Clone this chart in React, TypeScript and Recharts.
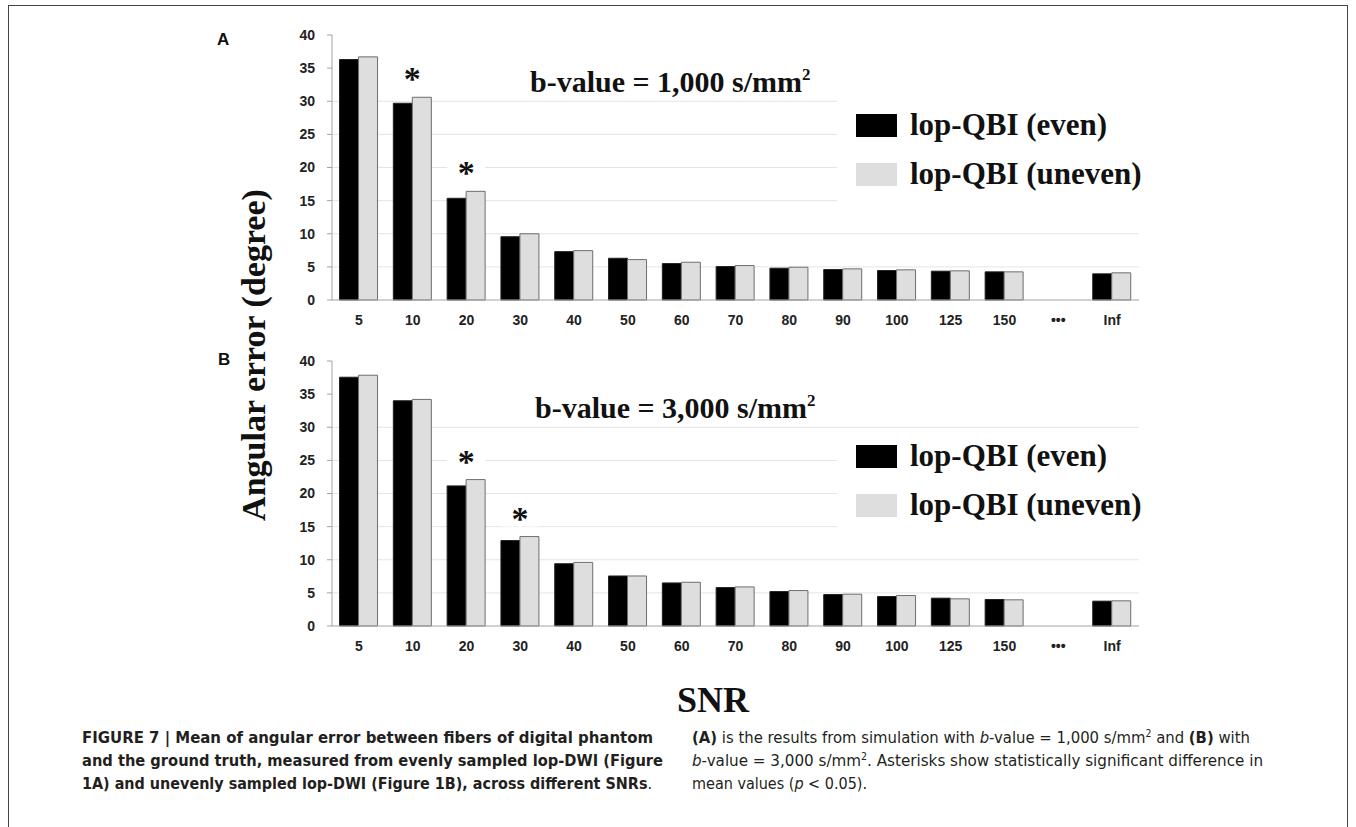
import React from "react";
import { BarChart, Bar, XAxis, YAxis, CartesianGrid, Legend, LabelList } from "recharts";

// SNR categories (the "•••" slot is an empty gap before Inf)
const snr = ["5", "10", "20", "30", "40", "50", "60", "70", "80", "90", "100", "125", "150", "•••", "Inf"];

// panel A: b-value = 1,000 s/mm2
const evenA = [36.3, 29.7, 15.35, 9.55, 7.3, 6.3, 5.5, 5.05, 4.8, 4.6, 4.45, 4.35, 4.25, null, 3.95];
const unevenA = [36.7, 30.6, 16.4, 10.0, 7.45, 6.1, 5.7, 5.2, 4.95, 4.7, 4.55, 4.4, 4.25, null, 4.1];
const starsA = ["10", "20"];

// panel B: b-value = 3,000 s/mm2
const evenB = [37.55, 34.0, 21.15, 12.9, 9.4, 7.55, 6.5, 5.8, 5.2, 4.75, 4.45, 4.2, 4.0, null, 3.75];
const unevenB = [37.85, 34.2, 22.1, 13.5, 9.6, 7.55, 6.6, 5.9, 5.35, 4.8, 4.6, 4.1, 3.95, null, 3.8];
const starsB = ["20", "30"];

const yTicks = [0, 5, 10, 15, 20, 25, 30, 35, 40];
const gridValues = [5, 10, 15, 20, 25, 30];
const seriesNames = ["lop-QBI (even)", "lop-QBI (uneven)"];

const SERIF = "'Liberation Serif', 'Times New Roman', serif";
const SANS = "'Liberation Sans', Arial, sans-serif";
const NARROW = "'Liberation Sans Narrow', 'DejaVu Sans Condensed', sans-serif";
const AXIS = "#a3a3a3";
const GREY_BAR = "#dedede";

function rows(even: (number | null)[], uneven: (number | null)[], stars: string[]) {
  return snr.map((s, i) => ({
    snr: s,
    even: even[i],
    uneven: uneven[i],
    star: stars.includes(s) ? "*" : "",
  }));
}

function StarLabel(props: any) {
  if (props.value !== "*") return null;
  const vb = props.viewBox || props;
  const cx = vb.x;
  const cy = vb.y - 23;
  return (
    <g>
      <rect x={cx - 19} y={cy - 13} width={38} height={26} fill="#fff" />
      <text x={cx} y={cy + 16} textAnchor="middle" fontFamily={SERIF} fontWeight="bold" fontSize={34} fill="#111">
        *
      </text>
    </g>
  );
}

function LegendBox(props: any) {
  const items = props.payload && props.payload.length ? props.payload : [];
  const names = items.length ? items.map((p: any) => p.value) : seriesNames;
  const colors = items.length ? items.map((p: any) => p.color) : ["#000", GREY_BAR];
  return (
    <svg width={310} height={118} style={{ display: "block", background: "#fff" }}>
      {names.map((n: string, i: number) => (
        <g key={n}>
          <rect x={19} y={17 + i * 49} width={41} height={23} fill={colors[i]} />
          <text x={73} y={38 + i * 49} fontFamily={SERIF} fontWeight="bold" fontSize={31} fill="#111">
            {n}
          </text>
        </g>
      ))}
    </svg>
  );
}

function Panel({ data, legendTop }: { data: any[]; legendTop: number }) {
  return (
    <BarChart
      width={900}
      height={310}
      data={data}
      margin={{ top: 15, right: 21, bottom: 0, left: 0 }}
      barCategoryGap="14%"
      barGap={0}
    >
      <CartesianGrid
        xAxisId={1}
        vertical={false}
        stroke="#e4e4e4"
        horizontalValues={gridValues}
      />
      {/* boundary ticks between categories */}
      <XAxis
        xAxisId={0}
        type="number"
        domain={[0, snr.length]}
        ticks={snr.map((_, i) => i).concat(snr.length)}
        allowDataOverflow
        tick={false}
        tickSize={5}
        axisLine={{ stroke: AXIS }}
        tickLine={{ stroke: AXIS }}
        height={1}
      />
      <XAxis
        xAxisId={1}
        dataKey="snr"
        type="category"
        interval={0}
        axisLine={false}
        tickLine={false}
        tickSize={0}
        tickMargin={14}
        height={29}
        tick={{ fontFamily: SANS, fontWeight: "bold", fontSize: 14, fill: "#222" }}
      />
      <YAxis
        domain={[0, 40]}
        ticks={yTicks}
        width={72}
        tickSize={5}
        tickMargin={12}
        axisLine={{ stroke: AXIS }}
        tickLine={{ stroke: AXIS }}
        tick={{ fontFamily: SANS, fontWeight: "bold", fontSize: 14, fill: "#222" }}
      />
      <Legend
        layout="vertical"
        align="center"
        verticalAlign="middle"
        wrapperStyle={{ left: 577, top: legendTop, width: 310 }}
        content={(p: any) => <LegendBox payload={p.payload} />}
      />
      <Bar
        xAxisId={1}
        dataKey="even"
        name={seriesNames[0]}
        fill="#000"
        stroke="#222"
        strokeWidth={1}
        isAnimationActive={false}
      />
      <Bar
        xAxisId={1}
        dataKey="uneven"
        name={seriesNames[1]}
        fill={GREY_BAR}
        stroke="#6e6e6e"
        strokeWidth={1}
        isAnimationActive={false}
      >
        <LabelList dataKey="star" content={StarLabel} />
      </Bar>
    </BarChart>
  );
}

export default function App() {
  const dataA = rows(evenA, unevenA, starsA);
  const dataB = rows(evenB, unevenB, starsB);
  const capStyle = { fontFamily: NARROW, fontSize: 16, fill: "#231f20" };

  return (
    <div style={{ position: "absolute", left: 0, top: 0, width: 1356, height: 827, background: "#fff", overflow: "hidden" }}>
      <svg width={1356} height={827} style={{ position: "absolute", left: 0, top: 0 }}>
        <rect x={8.5} y={5.5} width={1339} height={840} fill="none" stroke="#444" strokeWidth={1} />

        <text x={217} y={45} fontFamily={SANS} fontWeight="bold" fontSize={17} fill="#111">A</text>
        <text x={218} y={365} fontFamily={SANS} fontWeight="bold" fontSize={17} fill="#111">B</text>

        <text
          x={265}
          y={355}
          transform="rotate(-90 265 355)"
          textAnchor="middle"
          fontFamily={SERIF}
          fontWeight="bold"
          fontSize={34}
          fill="#111"
        >
          Angular error (degree)
        </text>

        <text x={530} y={92} fontFamily={SERIF} fontWeight="bold" fontSize={30} fill="#111">
          b-value = 1,000 s/mm<tspan fontSize={17} dy={-12}>2</tspan>
        </text>
        <text x={535} y={418} fontFamily={SERIF} fontWeight="bold" fontSize={30} fill="#111">
          b-value = 3,000 s/mm<tspan fontSize={17} dy={-12}>2</tspan>
        </text>

        <text x={713} y={712} textAnchor="middle" fontFamily={SERIF} fontWeight="bold" fontSize={36} fill="#111">
          SNR
        </text>

        <text x={82} y={743} {...capStyle} fontWeight="bold" textLength={571} lengthAdjust="spacingAndGlyphs">
          FIGURE 7 | Mean of angular error between fibers of digital phantom
        </text>
        <text x={82} y={766} {...capStyle} fontWeight="bold" textLength={581} lengthAdjust="spacingAndGlyphs">
          and the ground truth, measured from evenly sampled lop-DWI (Figure
        </text>
        <text x={82} y={789} {...capStyle} textLength={570} lengthAdjust="spacingAndGlyphs">
          <tspan fontWeight="bold">1A) and unevenly sampled lop-DWI (Figure 1B), across different SNRs</tspan>.
        </text>

        <text x={692} y={743} {...capStyle} textLength={558} lengthAdjust="spacingAndGlyphs">
          <tspan fontWeight="bold">(A)</tspan> is the results from simulation with <tspan fontStyle="italic">b</tspan>
          -value = 1,000 s/mm<tspan fontSize={10} dy={-6}>2</tspan>
          <tspan dy={6}> and </tspan>
          <tspan fontWeight="bold">(B)</tspan> with
        </text>
        <text x={692} y={766} {...capStyle} textLength={571} lengthAdjust="spacingAndGlyphs">
          <tspan fontStyle="italic">b</tspan>-value = 3,000 s/mm<tspan fontSize={10} dy={-6}>2</tspan>
          <tspan dy={6}>. Asterisks show statistically significant difference in</tspan>
        </text>
        <text x={692} y={789} {...capStyle}>
          mean values (<tspan fontStyle="italic">p</tspan> &lt; 0.05).
        </text>
      </svg>

      <div style={{ position: "absolute", left: 260, top: 20 }}>
        <Panel data={dataA} legendTop={77} />
      </div>
      <div style={{ position: "absolute", left: 260, top: 346 }}>
        <Panel data={dataB} legendTop={82} />
      </div>
    </div>
  );
}
